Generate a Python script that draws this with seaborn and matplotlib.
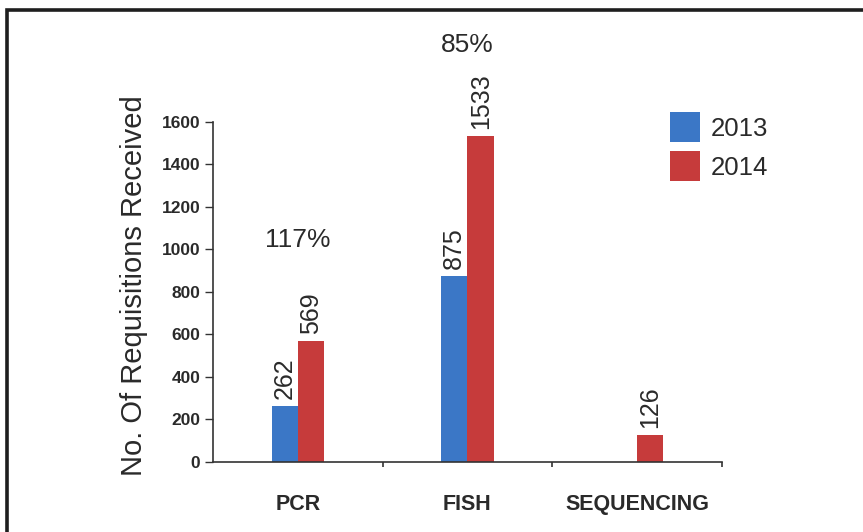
import matplotlib
matplotlib.use("Agg")
import matplotlib.pyplot as plt
from matplotlib.patches import Rectangle
import numpy as np
import pandas as pd
import seaborn as sns

# Requisitions received per test type
categories = ["PCR", "FISH", "SEQUENCING"]
years = ["2013", "2014"]
req_2013 = [262, 875, np.nan]
req_2014 = [569, 1533, 126]
growth_labels = ["117%", "85%", None]
growth_y = [1045, 1960, None]
y_ticks = [0, 200, 400, 600, 800, 1000, 1200, 1400, 1600]

colors = {"2013": "#3b77c6", "2014": "#c63b3b"}
text_color = "#2a2a2a"

df = pd.DataFrame({
    "test": categories * 2,
    "year": [years[0]] * 3 + [years[1]] * 3,
    "count": req_2013 + req_2014,
})

sns.set_theme(style="white")
plt.rcParams["font.family"] = ["Liberation Sans", "DejaVu Sans"]

fig = plt.figure(figsize=(8.63, 5.32), dpi=100)
ax = fig.add_axes([0.2468, 0.1316, 0.5898, 0.6391])

sns.barplot(data=df, x="test", y="count", hue="year", order=categories,
            hue_order=years, palette=colors, width=0.31, gap=0,
            saturation=1, linewidth=0, edgecolor="none", ax=ax, legend=True)

ax.set_xlim(-0.5, 2.5)
ax.set_ylim(0, 1600)
ax.set_yticks(y_ticks)
ax.set_yticklabels([str(t) for t in y_ticks], fontsize=12.5,
                   fontweight="bold", color=text_color)
ax.set_xlabel("")
ax.set_ylabel("No. Of Requisitions Received", fontsize=21, color=text_color)
ax.yaxis.set_label_coords(-0.128, 0.518)
ax.tick_params(axis="x", length=0, pad=23, labelsize=15.5, labelcolor=text_color)
ax.set_xticks([0.5, 1.5, 2.5], minor=True)
ax.tick_params(axis="x", which="minor", direction="out", length=3.5,
               color="#333333", width=1.2, bottom=True)
ax.tick_params(axis="y", which="major", direction="out", length=6,
               color="#333333", width=1.0, left=True, pad=3)
for lbl in ax.get_xticklabels():
    lbl.set_fontweight("bold")

sns.despine(ax=ax)
for side in ("left", "bottom"):
    ax.spines[side].set_color("#333333")
    ax.spines[side].set_linewidth(1.2)

# value labels above each bar
for cont in ax.containers:
    vals = [p.get_height() for p in cont]
    labels = ["" if (v is None or np.isnan(v) or v == 0) else f"{int(round(v))}"
              for v in vals]
    ax.bar_label(cont, labels=labels, rotation=90, padding=5,
                 fontsize=18, color=text_color)

# growth percentages
for i, (txt, yv) in enumerate(zip(growth_labels, growth_y)):
    if txt:
        ax.text(i, yv, txt, ha="center", va="center", fontsize=19,
                color=text_color, clip_on=False)

leg = ax.legend(loc="upper left", bbox_to_anchor=(670 / 863, 1 - 112 / 532),
                bbox_transform=fig.transFigure, frameon=False, fontsize=18.5,
                handlelength=1.17, handleheight=1.42, handletextpad=0.4,
                labelspacing=0.35, borderpad=0, borderaxespad=0, title=None)
for t in leg.get_texts():
    t.set_color(text_color)

# outer frame
fig.patches.append(Rectangle((6.5 / 863, -0.05), 1.2, 1 - 9.5 / 532 + 0.05,
                             transform=fig.transFigure, fill=False,
                             edgecolor="#1e1e1e", linewidth=2.6))

fig.savefig("out.png", dpi=100, facecolor="white")
